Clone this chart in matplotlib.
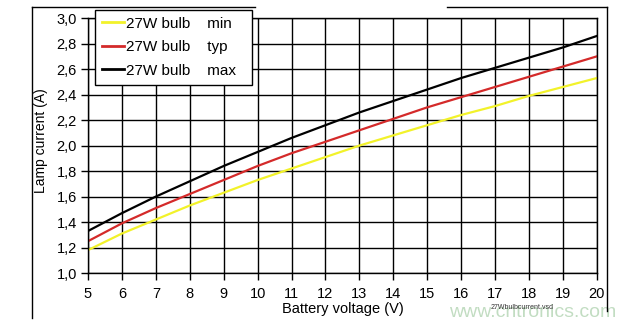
import matplotlib.pyplot as plt
from matplotlib.lines import Line2D
from matplotlib.ticker import FuncFormatter

# Data
voltage = [5, 6, 7, 8, 9, 10, 11, 12, 13, 14, 15, 16, 17, 18, 19, 20]
i_min = [1.18, 1.31, 1.42, 1.53, 1.63, 1.73, 1.82, 1.91, 2.00, 2.08, 2.16, 2.24, 2.31, 2.39, 2.46, 2.53]
i_typ = [1.25, 1.39, 1.51, 1.62, 1.73, 1.84, 1.94, 2.03, 2.12, 2.21, 2.30, 2.38, 2.46, 2.54, 2.62, 2.70]
i_max = [1.33, 1.47, 1.60, 1.72, 1.84, 1.95, 2.06, 2.16, 2.26, 2.35, 2.44, 2.53, 2.61, 2.69, 2.77, 2.86]
labels = ["27W bulb    min  ", "27W bulb    typ  ", "27W bulb    max  "]
colors = ["#f2f22a", "#d42a2a", "#000000"]

plt.rcParams['font.family'] = ['Liberation Sans', 'DejaVu Sans']

fig = plt.figure(figsize=(6.33, 3.29), dpi=100)
ax = fig.add_axes([0.139, 0.170, 0.804, 0.775])

for y, c in zip([i_min, i_typ, i_max], colors):
    ax.plot(voltage, y, color=c, lw=1.6)

ax.set_xlim(5, 20)
ax.set_ylim(1.0, 3.0)
ax.set_xticks(range(5, 21))
ax.set_yticks([1.0 + 0.2 * k for k in range(11)])
ax.yaxis.set_major_formatter(FuncFormatter(lambda v, p: f"{v:.1f}".replace(".", ",")))
ax.tick_params(labelsize=10.5, length=5, width=1, color="black", pad=3)
ax.tick_params(axis="x", pad=5)
ax.grid(True, color="black", lw=1)
for s in ax.spines.values():
    s.set_linewidth(1)
ax.set_xlabel("Battery voltage (V)", fontsize=10.5, labelpad=1)
ax.set_ylabel("Lamp current (A)", fontsize=10, labelpad=2)
ax.yaxis.set_label_coords(-0.079, 0.52)

# legend box overlapping the top edge
handles = [Line2D([], [], color=c, lw=2) for c in colors]
leg = fig.legend(handles, labels, loc="upper left", bbox_to_anchor=(0.150, 0.970),
                 fontsize=11, frameon=True, fancybox=False, edgecolor="black",
                 handlelength=1.45, handletextpad=0.15, labelspacing=0.62,
                 borderpad=0.45, borderaxespad=0)
leg.get_frame().set_linewidth(1)
leg.get_frame().set_alpha(1)
leg.set_zorder(5)

# outer frame
fig.add_artist(Line2D([0.051, 0.051], [0.979, 0.034], color="black", lw=1))
fig.add_artist(Line2D([0.051, 0.403], [0.979, 0.979], color="black", lw=1))
fig.add_artist(Line2D([0.706, 0.959], [0.979, 0.979], color="black", lw=1))
fig.add_artist(Line2D([0.959, 0.959], [0.979, 0.055], color="black", lw=1))

fig.text(0.842, 0.049, "www.cntronics.com", fontsize=14, color="#c2ddc2",
         ha="center", va="center", zorder=0)
fig.text(0.825, 0.066, "27Wbulbcurrent.vsd", fontsize=5, color="#333333",
         ha="center", va="center")

fig.savefig("out.png", dpi=100)
